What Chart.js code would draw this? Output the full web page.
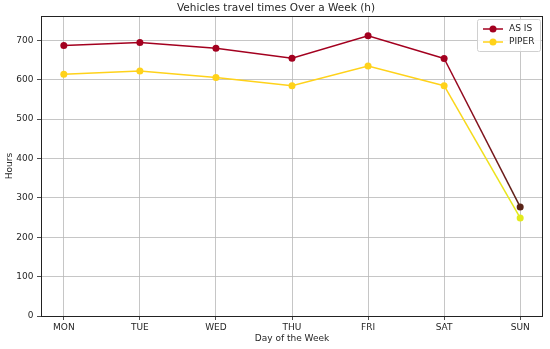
<!DOCTYPE html>
<html>
<head>
<meta charset="utf-8">
<script src="https://cdn.jsdelivr.net/npm/chart.js@4/dist/chart.umd.min.js"></script>
<style>
html,body{margin:0;padding:0;background:#fff;}
#wrap{width:550px;height:349px;position:relative;}
</style>
</head>
<body>
<div id="wrap"><canvas id="c" width="550" height="349"></canvas></div>
<script>
const days = ["MON","TUE","WED","THU","FRI","SAT","SUN"];
const asIs = [687, 695, 680, 655, 712, 654, 277];
const piper = [614, 622, 606, 585, 635, 585, 249];
const yTicks = [0,100,200,300,400,500,600,700];
const titleText = "Vehicles travel times Over a Week (h)";

const RED = "#a3001f", RED_END = "#5a2418";
const YEL = "#ffd21a", YEL_END = "#e2ea1c";
const FONT = "'DejaVu Sans', sans-serif";
const TXT = "#262626";
const GRID = "#b8b8b8";

function segGrad(ctx, c0, c1){
  const chart = ctx.chart;
  const p0 = ctx.p0, p1 = ctx.p1;
  if (ctx.p1DataIndex !== days.length-1) return c0;
  const g = chart.ctx.createLinearGradient(p0.x, p0.y, p1.x, p1.y);
  g.addColorStop(0, c0); g.addColorStop(1, c1);
  return g;
}

const framePlugin = {
  id:'frame',
  afterDraw(chart){
    const {ctx, chartArea:a} = chart;
    ctx.save();
    ctx.strokeStyle = "#222"; ctx.lineWidth = 1;
    ctx.strokeRect(Math.round(a.left)+0.5, Math.round(a.top)+0.5, Math.round(a.right-a.left)-1, Math.round(a.bottom-a.top));
    // title
    ctx.fillStyle = TXT; ctx.font = "10.5px " + FONT;
    ctx.textAlign = "center"; ctx.textBaseline = "middle";
    ctx.fillText(titleText, 276, 8);
    // legend
    const bx = 477.5, by = 19.5, bw = 63, bh = 32;
    ctx.fillStyle = "rgba(255,255,255,0.85)";
    ctx.strokeStyle = "#d0d0d0";
    ctx.beginPath();
    if (ctx.roundRect) ctx.roundRect(bx, by, bw, bh, 2); else ctx.rect(bx,by,bw,bh);
    ctx.fill(); ctx.stroke();
    chart.data.datasets.forEach((ds, i) => {
      const y = 29 + i*13;
      ctx.strokeStyle = ds.borderColor; ctx.lineWidth = 1.5;
      ctx.beginPath(); ctx.moveTo(483, y); ctx.lineTo(503, y); ctx.stroke();
      ctx.fillStyle = ds.borderColor;
      ctx.beginPath(); ctx.arc(493, y, 3.5, 0, Math.PI*2); ctx.fill();
      ctx.fillStyle = TXT; ctx.font = "9px " + FONT;
      ctx.textAlign = "left"; ctx.textBaseline = "middle";
      ctx.fillText(ds.label, 509, y);
    });
    ctx.restore();
  }
};

new Chart(document.getElementById('c'), {
  type: 'line',
  data: {
    datasets: [
      {
        label: "AS IS",
        data: asIs.map((v,i)=>({x:i, y:v})),
        borderColor: RED,
        backgroundColor: RED,
        pointBackgroundColor: asIs.map((v,i)=> i===days.length-1 ? RED_END : RED),
        pointBorderColor: asIs.map((v,i)=> i===days.length-1 ? RED_END : RED),
        borderWidth: 1.5, pointRadius: 3.5, pointBorderWidth: 0,
        tension: 0,
        segment: { borderColor: ctx => segGrad(ctx, RED, RED_END) }
      },
      {
        label: "PIPER",
        data: piper.map((v,i)=>({x:i, y:v})),
        borderColor: YEL,
        backgroundColor: YEL,
        pointBackgroundColor: piper.map((v,i)=> i===days.length-1 ? YEL_END : YEL),
        pointBorderColor: piper.map((v,i)=> i===days.length-1 ? YEL_END : YEL),
        borderWidth: 1.5, pointRadius: 3.5, pointBorderWidth: 0,
        tension: 0,
        segment: { borderColor: ctx => segGrad(ctx, YEL, YEL_END) }
      }
    ]
  },
  options: {
    responsive: false,
    animation: false,
    layout: { padding: { top: 16, right: 7, left: 0, bottom: 0 } },
    plugins: { legend: { display:false }, title: { display:false }, tooltip: { enabled:false } },
    scales: {
      x: {
        type: 'linear', min: -0.3, max: 6.3,
        afterBuildTicks(s){ s.ticks = days.map((d,i)=>({value:i})); },
        afterFit(s){ s.height = 33; },
        ticks: { callback: (v)=> days[v] ?? '', color: TXT, font:{family:FONT, size:9}, padding: 2, maxRotation:0, autoSkip:false },
        grid: { color: GRID, lineWidth: 0.8, tickLength: 4, tickColor: "#222", drawTicks: true },
        border: { display: false },
        title: { display: true, text: "Day of the Week", color: TXT, font:{family:FONT, size:9}, padding:{top:0, bottom:4.5} }
      },
      y: {
        min: 0, max: 762,
        afterBuildTicks(s){ s.ticks = yTicks.map(v=>({value:v})); },
        afterFit(s){ s.width = 41; },
        ticks: { color: TXT, font:{family:FONT, size:9}, padding: 3.5 },
        grid: { color: GRID, lineWidth: 0.8, tickLength: 4, tickColor: "#222", drawTicks: true },
        border: { display: false },
        title: { display: true, text: "Hours", color: TXT, font:{family:FONT, size:9}, padding:{top:4, bottom:0} }
      }
    }
  },
  plugins: [framePlugin]
});
</script>
</body>
</html>
